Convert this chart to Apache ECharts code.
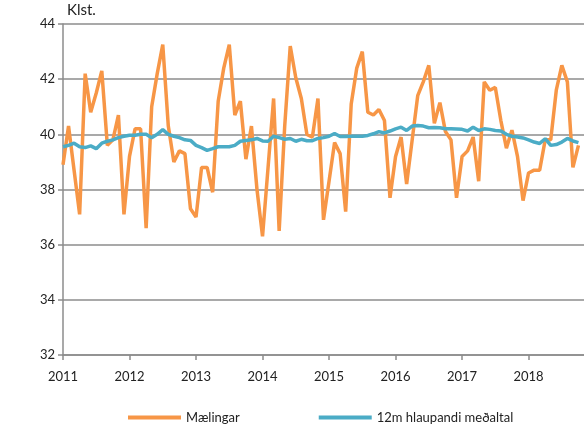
<!DOCTYPE html>
<html>
<head>
<meta charset="utf-8">
<script src="https://cdn.jsdelivr.net/npm/echarts@6/dist/echarts.min.js"></script>
<style>
html,body{margin:0;padding:0;background:#fff;}
#chart{width:584px;height:426px;}
</style>
</head>
<body>
<div id="chart"></div>
<script>
// Tick labels (years)
const years = ['2011','2012','2013','2014','2015','2016','2017','2018'];
// Monthly categories Jan 2011 .. Nov 2018
const categories = [];
for (const y of years) for (let m = 1; m <= 12; m++) categories.push(y + '-' + String(m).padStart(2,'0'));
categories.length = 95;

const seriesNames = ['Mælingar', '12m hlaupandi meðaltal'];

// Mælingar (monthly measurements)
const maelingar = [
  38.9, 40.3, 38.7, 37.1, 42.2, 40.8, 41.5, 42.3, 39.6, 39.8, 40.7, 37.1,
  39.2, 40.2, 40.2, 36.6, 41.0, 42.2, 43.25, 40.3, 39.0, 39.4, 39.3, 37.3,
  37.0, 38.8, 38.8, 37.9, 41.2, 42.4, 43.25, 40.7, 41.2, 39.1, 40.3, 38.0,
  36.3, 38.8, 41.3, 36.5, 40.3, 43.2, 42.05, 41.3, 40.0, 39.9, 41.3, 36.9,
  38.3, 39.7, 39.3, 37.2, 41.1, 42.4, 43.0, 40.8, 40.7, 40.9, 40.5, 37.7,
  39.2, 39.9, 38.2, 39.8, 41.4, 41.9, 42.5, 40.4, 41.15, 40.1, 39.8, 37.7,
  39.2, 39.4, 39.9, 38.3, 41.9, 41.6, 41.7, 40.5, 39.5, 40.15, 39.2, 37.6,
  38.6, 38.7, 38.7, 39.8, 39.8, 41.6, 42.5, 41.9, 38.8, 39.6
];

// 12m hlaupandi meðaltal (12-month moving average)
const medaltal = [
  39.55, 39.6, 39.68, 39.55, 39.52, 39.58, 39.48, 39.68, 39.75, 39.8, 39.88, 39.93, 39.97, 39.97,
  40.0, 40.0, 39.88, 40.0, 40.17, 40.0, 39.93, 39.88, 39.8, 39.78, 39.6, 39.52, 39.42,
  39.48, 39.55, 39.55, 39.55, 39.6, 39.75, 39.78, 39.8, 39.85, 39.76, 39.75, 39.93, 39.88, 39.82,
  39.85, 39.75, 39.82, 39.77, 39.77, 39.85, 39.88, 39.93, 40.03, 39.92, 39.92, 39.93, 39.93,
  39.93, 39.96, 40.02, 40.1, 40.05, 40.12, 40.2, 40.26, 40.14, 40.3, 40.32, 40.3, 40.24, 40.25,
  40.24, 40.2, 40.2, 40.19, 40.18, 40.12, 40.26, 40.14, 40.2, 40.18, 40.14, 40.12, 40.0,
  39.93, 39.9, 39.87, 39.8, 39.72, 39.67, 39.84, 39.6, 39.63, 39.72, 39.85, 39.76, 39.7
];

const FONT = 'Lato';
const chart = echarts.init(document.getElementById('chart'), null, {renderer: 'canvas'});
chart.setOption({
  animation: false,
  backgroundColor: '#ffffff',
  grid: {left: 63, top: 24, width: 522, height: 331, containLabel: false},
  legend: {
    data: seriesNames,
    left: 123, top: 406,
    itemWidth: 53, itemHeight: 4, itemGap: 79,
    icon: 'rect',
    textStyle: {fontFamily: FONT, fontSize: 13, color: '#222'}
  },
  xAxis: {
    type: 'category',
    data: categories,
    boundaryGap: false,
    axisLine: {lineStyle: {color: '#8c8c8c', width: 1.5}},
    axisTick: {show: true, interval: 11, length: 5, lineStyle: {color: '#8c8c8c', width: 1.5}},
    axisLabel: {interval: 11, margin: 15, fontFamily: FONT, fontSize: 13, color: '#222',
      formatter: v => v.slice(0, 4)},
    splitLine: {show: false}
  },
  yAxis: {
    type: 'value',
    min: 32, max: 44, interval: 2,
    name: 'Klst.',
    nameLocation: 'end',
    nameGap: 6,
    nameTextStyle: {fontFamily: FONT, fontSize: 15, color: '#222', align: 'left', padding: [0,0,0,4]},
    axisLine: {show: true, lineStyle: {color: '#8c8c8c', width: 1.5}},
    axisTick: {show: true, length: 5, lineStyle: {color: '#8c8c8c', width: 1.5}},
    axisLabel: {margin: 8, fontFamily: FONT, fontSize: 13, color: '#222'},
    splitLine: {lineStyle: {color: '#8c8c8c', width: 1.5}}
  },
  series: [
    {
      name: seriesNames[0], type: 'line', data: maelingar,
      symbol: 'none', smooth: false,
      lineStyle: {color: '#F79646', width: 3.5},
      itemStyle: {color: '#F79646'}
    },
    {
      name: seriesNames[1], type: 'line', data: medaltal,
      symbol: 'none', smooth: false,
      lineStyle: {color: '#4BACC6', width: 3.5},
      itemStyle: {color: '#4BACC6'}
    }
  ]
});
</script>
</body>
</html>
